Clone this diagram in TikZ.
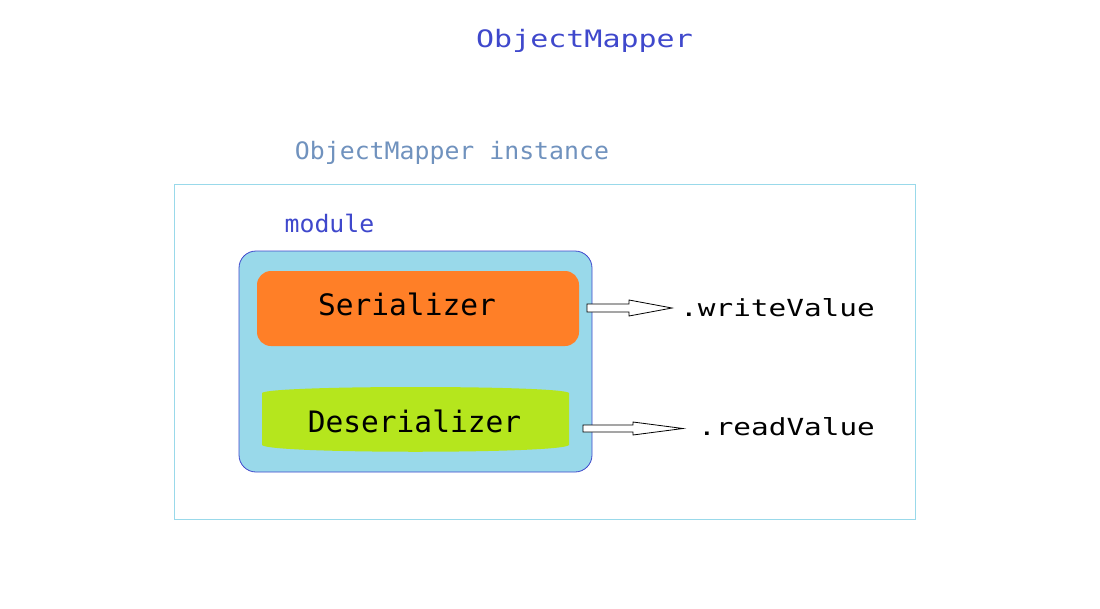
\documentclass[tikz,border=0pt]{standalone}
\usepackage{fontspec}
\usetikzlibrary{calc}
\newfontfamily\monoN{DejaVu Sans Mono}
\newfontfamily\monoS[FakeStretch=1.035]{DejaVu Sans Mono}
\newfontfamily\monoW[FakeStretch=1.25]{DejaVu Sans Mono}
\definecolor{indigo}{HTML}{3F48CC}
\definecolor{steel}{HTML}{7092BE}
\definecolor{turq}{HTML}{99D9EA}
\definecolor{orng}{HTML}{FF7F27}
\definecolor{lime}{HTML}{B5E61D}
\begin{document}
\begin{tikzpicture}[x=1pt,y=-1pt,
  lbl/.style={inner sep=0pt,anchor=base},
  blockarrow/.style={draw=black,fill=white,line width=0.8pt,line join=miter}]
\fill[white] (0,0) rectangle (1100,608);
\useasboundingbox (0,0) rectangle (1100,608);

% title
\node[lbl,text=indigo,font=\monoW\fontsize{24}{28}\selectfont] (title) at (584.5,47) {ObjectMapper};

% outer instance box
\draw[turq,line width=0.8pt] (174,184) rectangle (915,519);
\node[lbl,text=steel,font=\monoS\fontsize{24}{28}\selectfont] (inst) at (452,159) {ObjectMapper instance};

% module
\node[lbl,text=indigo,font=\monoS\fontsize{24}{28}\selectfont] (modlbl) at (329.5,232) {module};
\draw[fill=turq,draw=indigo,line width=0.8pt,rounded corners=17pt] (239,251) rectangle (592,472);

% serializer
\fill[orng,rounded corners=14pt] (257,271) rectangle (579,346);
\node[lbl,font=\monoN\fontsize{29.5}{32}\selectfont] (ser) at (407,315) {Serializer};

% deserializer
\fill[lime] (262,393) .. controls (268,385) and (563,385) .. (569,393)
  -- (569,445) .. controls (563,454) and (268,454) .. (262,445) -- cycle;
\node[lbl,font=\monoN\fontsize{29.5}{32}\selectfont] (deser) at (414.5,432) {Deserializer};

% method labels
\node[lbl,font=\monoW\fontsize{23.5}{28}\selectfont] (write) at (777.5,316) {.writeValue};
\node[lbl,font=\monoW\fontsize{23.5}{28}\selectfont] (read) at (786.5,435) {.readValue};

% block arrows
\coordinate (a1s) at (587,308);
\coordinate (a1e) at (672,308);
\coordinate (a2s) at (583,428.5);
\coordinate (a2e) at (683,428.5);
\draw[blockarrow] ($(a1s)+(0,-4)$) -- (629,304) -- (629,300) -- (a1e)
  -- (629,316) -- (629,312) -- ($(a1s)+(0,4)$) -- cycle;
\draw[blockarrow] ($(a2s)+(0,-3.5)$) -- (633,425) -- (633,422) -- (a2e)
  -- (633,435) -- (633,432) -- ($(a2s)+(0,3.5)$) -- cycle;
\end{tikzpicture}
\end{document}
